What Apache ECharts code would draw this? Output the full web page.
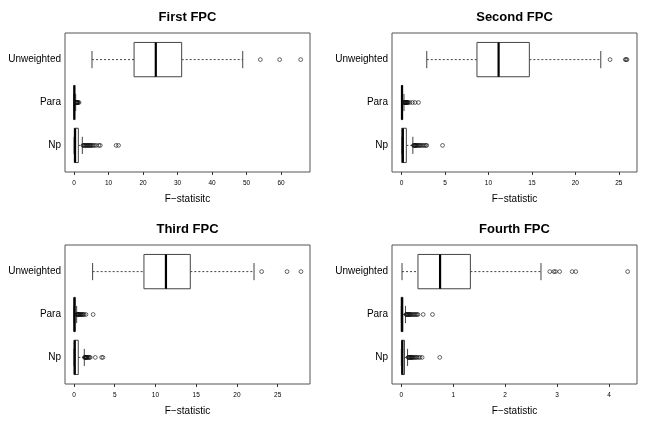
<!DOCTYPE html>
<html>
<head>
<meta charset="utf-8">
<script src="https://cdn.jsdelivr.net/npm/echarts@6/dist/echarts.min.js"></script>
<style>
html,body{margin:0;padding:0;background:#fff;}
#chart{width:654px;height:426px;}
</style>
</head>
<body>
<div id="chart"></div>
<script>
// ---------- data ----------
const categories = ['Np', 'Para', 'Unweighted'];
const panelTitles = ['First FPC', 'Second FPC', 'Third FPC', 'Fourth FPC'];
const axisNames = ['F\u2212statisitc', 'F\u2212statistic', 'F\u2212statistic', 'F\u2212statistic'];
const ticks1 = [0, 10, 20, 30, 40, 50, 60];
const ticks2 = [0, 5, 10, 15, 20, 25];
const ticks3 = [0, 5, 10, 15, 20, 25];
const ticks4 = [0, 1, 2, 3, 4];

// box stats: [whiskerLow, Q1, median, Q3, whiskerHigh]
const p1Unweighted = [5.2, 17.4, 23.7, 31.2, 48.9];
const p1Para = [0, 0.02, 0.08, 0.2, 0.48];
const p1Np = [0, 0.08, 0.3, 1.25, 2.4];
const p1UnweightedOut = [54.0, 59.6, 65.7];
const p1ParaOut = [0.55, 0.62, 0.7, 0.78, 0.85, 0.95, 1.05, 1.2, 1.45];
const p1NpOut = [2.6, 2.8, 3.0, 3.2, 3.4, 3.6, 3.8, 4.0, 4.2, 4.4, 4.6, 4.8, 5.0, 5.3, 5.6, 6.0, 6.5, 7.2, 7.6, 12.2, 12.9];

const p2Unweighted = [2.9, 8.68, 11.17, 14.71, 22.93];
const p2Para = [0, 0.01, 0.05, 0.12, 0.28];
const p2Np = [0, 0.03, 0.15, 0.55, 1.3];
const p2UnweightedOut = [24.0, 25.75, 25.85, 25.95];
const p2ParaOut = [0.3, 0.33, 0.36, 0.4, 0.44, 0.48, 0.52, 0.56, 0.6, 0.65, 0.7, 0.75, 0.95, 1.25, 1.55, 1.95];
const p2NpOut = [1.38, 1.45, 1.5, 1.55, 1.6, 1.65, 1.7, 1.8, 1.9, 2.0, 2.1, 2.2, 2.35, 2.5, 2.65, 2.8, 2.9, 4.72];

const p3Unweighted = [2.29, 8.59, 11.29, 14.28, 22.1];
const p3Para = [0, 0.01, 0.06, 0.15, 0.33];
const p3Np = [0, 0.02, 0.1, 0.53, 1.27];
const p3UnweightedOut = [23.04, 26.15, 27.86];
const p3ParaOut = [0.36, 0.4, 0.45, 0.5, 0.55, 0.6, 0.66, 0.72, 0.8, 0.88, 0.95, 1.05, 1.15, 1.25, 1.47, 2.35];
const p3NpOut = [1.3, 1.35, 1.4, 1.45, 1.5, 1.55, 1.6, 1.7, 1.8, 1.9, 2.0, 2.62, 3.4, 3.55];

const p4Unweighted = [0.013, 0.32, 0.746, 1.33, 2.69];
const p4Para = [0, 0.003, 0.01, 0.03, 0.08];
const p4Np = [0, 0.005, 0.02, 0.06, 0.12];
const p4UnweightedOut = [2.86, 2.94, 2.97, 3.05, 3.29, 3.36, 4.36];
const p4ParaOut = [0.09, 0.1, 0.11, 0.12, 0.13, 0.14, 0.15, 0.16, 0.17, 0.18, 0.2, 0.22, 0.24, 0.26, 0.28, 0.3, 0.32, 0.42, 0.6];
const p4NpOut = [0.13, 0.14, 0.15, 0.16, 0.17, 0.18, 0.19, 0.2, 0.21, 0.22, 0.24, 0.26, 0.28, 0.3, 0.33, 0.36, 0.4, 0.74];

// ---------- layout ----------
const FONT = "'Liberation Sans', Arial, Helvetica, sans-serif";
const panels = [
  { left: 65, top: 33, min: -2.62, max: 68.4, ticks: ticks1,
    boxes: [p1Np, p1Para, p1Unweighted], outs: [p1NpOut, p1ParaOut, p1UnweightedOut] },
  { left: 392, top: 33, min: -1.1, max: 27.1, ticks: ticks2,
    boxes: [p2Np, p2Para, p2Unweighted], outs: [p2NpOut, p2ParaOut, p2UnweightedOut] },
  { left: 65, top: 245, min: -1.1, max: 28.97, ticks: ticks3,
    boxes: [p3Np, p3Para, p3Unweighted], outs: [p3NpOut, p3ParaOut, p3UnweightedOut] },
  { left: 392, top: 245, min: -0.18, max: 4.54, ticks: ticks4,
    boxes: [p4Np, p4Para, p4Unweighted], outs: [p4NpOut, p4ParaOut, p4UnweightedOut] }
];
const W = 245, H = 139;

const grids = [], xAxes = [], yAxes = [], series = [], graphics = [];

function renderBox(params, api) {
  const y = api.value(0);
  const lo = api.coord([api.value(1), y]);
  const q1 = api.coord([api.value(2), y]);
  const md = api.coord([api.value(3), y]);
  const q3 = api.coord([api.value(4), y]);
  const hi = api.coord([api.value(5), y]);
  const h = api.size([0, 0.8])[1];
  const cy = lo[1];
  const lineStyle = { stroke: '#444', lineWidth: 1, fill: null };
  const dashStyle = { stroke: '#444', lineWidth: 1, lineDash: [2, 2], fill: null };
  return {
    type: 'group',
    children: [
      { type: 'line', shape: { x1: lo[0], y1: cy, x2: q1[0], y2: cy }, style: dashStyle },
      { type: 'line', shape: { x1: q3[0], y1: cy, x2: hi[0], y2: cy }, style: dashStyle },
      { type: 'line', shape: { x1: lo[0], y1: cy - h / 4, x2: lo[0], y2: cy + h / 4 }, style: lineStyle },
      { type: 'line', shape: { x1: hi[0], y1: cy - h / 4, x2: hi[0], y2: cy + h / 4 }, style: lineStyle },
      { type: 'rect', shape: { x: q1[0], y: cy - h / 2, width: q3[0] - q1[0], height: h },
        style: { stroke: '#444', lineWidth: 1, fill: '#fff' } },
      { type: 'line', shape: { x1: md[0], y1: cy - h / 2, x2: md[0], y2: cy + h / 2 },
        style: { stroke: '#000', lineWidth: 2.2 } }
    ]
  };
}

panels.forEach((p, i) => {
  grids.push({ left: p.left, top: p.top, width: W, height: H, show: true,
    borderColor: '#555', borderWidth: 1, backgroundColor: 'transparent', containLabel: false });
  xAxes.push({
    type: 'value', gridIndex: i, min: p.min, max: p.max,
    name: axisNames[i], nameLocation: 'middle', nameGap: 22,
    nameTextStyle: { fontFamily: FONT, fontSize: 10, color: '#000' },
    axisLine: { show: false },
    splitLine: { show: false },
    axisTick: { show: true, length: 3, customValues: p.ticks, lineStyle: { color: '#333', width: 1 } },
    axisLabel: { customValues: p.ticks, margin: 8, fontFamily: FONT, fontSize: 6.5, color: '#000' }
  });
  yAxes.push({
    type: 'value', gridIndex: i, min: 0.38, max: 3.62,
    axisLine: { show: false }, axisTick: { show: false }, splitLine: { show: false },
    axisLabel: { customValues: [1, 2, 3], margin: 4, fontFamily: FONT, fontSize: 10, color: '#000',
      formatter: v => categories[Math.round(v) - 1] }
  });
  series.push({
    type: 'custom', xAxisIndex: i, yAxisIndex: i, silent: true, animation: false,
    renderItem: renderBox, clip: true,
    encode: { x: [1, 2, 3, 4, 5], y: 0 },
    data: p.boxes.map((b, k) => [k + 1].concat(b))
  });
  const pts = [];
  p.outs.forEach((arr, k) => arr.forEach(v => pts.push([v, k + 1])));
  series.push({
    type: 'scatter', xAxisIndex: i, yAxisIndex: i, silent: true, animation: false,
    symbol: 'circle', symbolSize: 3.8,
    itemStyle: { color: 'rgba(0,0,0,0)', borderColor: '#111', borderWidth: 0.8 },
    data: pts
  });
  graphics.push({
    type: 'text', x: p.left + W / 2, y: p.top - 16,
    style: { text: panelTitles[i], fontFamily: FONT, fontSize: 13, fontWeight: 'bold',
      fill: '#000', align: 'center', verticalAlign: 'middle' }
  });
});

const chart = echarts.init(document.getElementById('chart'), null, { renderer: 'canvas' });
chart.setOption({
  backgroundColor: '#fff',
  animation: false,
  grid: grids,
  xAxis: xAxes,
  yAxis: yAxes,
  series: series,
  graphic: graphics
});
</script>
</body>
</html>
